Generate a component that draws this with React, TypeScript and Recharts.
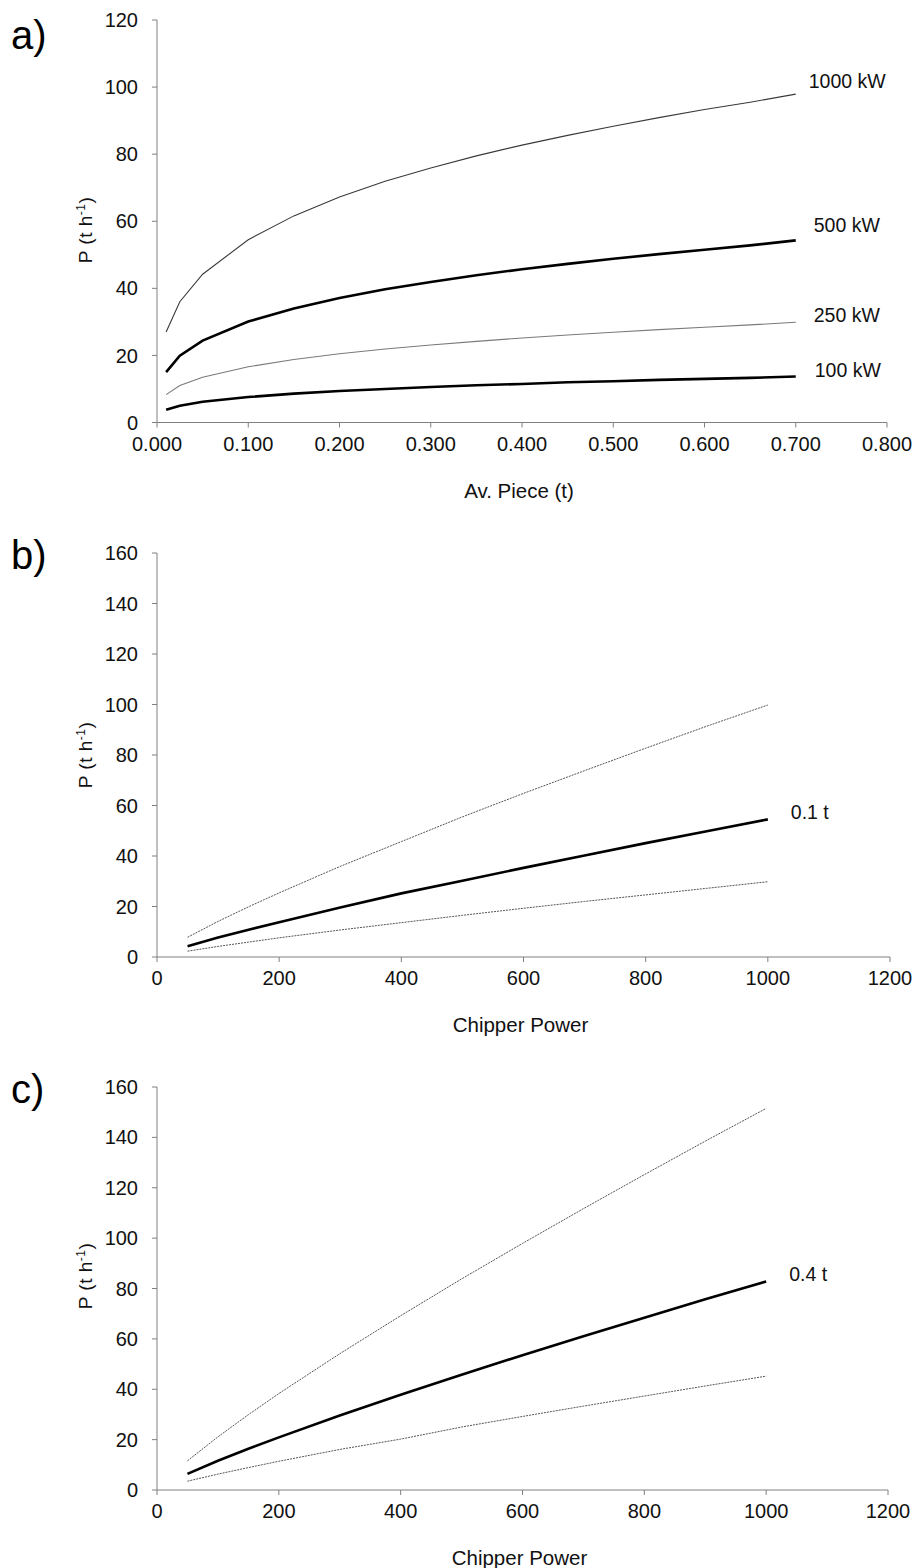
import React from 'react';
import { LineChart, Line, XAxis, YAxis } from 'recharts';

// a) production vs average piece size, one curve per chipper power
const pieceSizes = [0.01, 0.025, 0.05, 0.1, 0.15, 0.2, 0.25, 0.3, 0.35, 0.4, 0.45, 0.5, 0.55, 0.6, 0.65, 0.7];
const kw1000 = [27, 36, 44.2, 54.5, 61.6, 67.2, 71.9, 75.9, 79.5, 82.7, 85.6, 88.3, 90.9, 93.3, 95.5, 97.9];
const kw500 = [15, 19.9, 24.4, 30.1, 34, 37.1, 39.7, 41.9, 43.9, 45.7, 47.3, 48.8, 50.2, 51.5, 52.8, 54.3];
const kw250 = [8.3, 11, 13.5, 16.6, 18.8, 20.5, 21.9, 23.1, 24.2, 25.2, 26.1, 26.9, 27.7, 28.4, 29.1, 29.9];
const kw100 = [3.8, 5.0, 6.2, 7.6, 8.6, 9.4, 10.0, 10.6, 11.1, 11.5, 12.0, 12.3, 12.7, 13.0, 13.3, 13.7];

// b) and c) production vs chipper power
const chipperPower = [50, 100, 150, 200, 300, 400, 500, 600, 700, 800, 900, 1000];
const bUpper = [7.8, 14.1, 19.9, 25.4, 35.9, 45.7, 55.5, 64.8, 73.8, 82.7, 91.4, 99.8];
const bMid = [4.3, 7.7, 10.8, 13.8, 19.6, 25.2, 30.2, 35.3, 40.2, 45.1, 49.8, 54.5];
const bLower = [2.3, 4.2, 5.9, 7.6, 10.7, 13.6, 16.5, 19.3, 22.0, 24.6, 27.2, 29.8];
const cUpper = [11.6, 21.1, 29.9, 38.3, 54.1, 69.2, 83.8, 97.9, 111.7, 125.2, 138.5, 151.5];
const cMid = [6.4, 11.6, 16.4, 20.9, 29.6, 37.8, 45.8, 53.5, 61.0, 68.4, 75.7, 82.8];
const cLower = [3.5, 6.3, 8.9, 11.4, 16.1, 20.2, 25.0, 29.2, 33.3, 37.3, 41.3, 45.2];

const aXTicks = [0, 0.1, 0.2, 0.3, 0.4, 0.5, 0.6, 0.7, 0.8];
const aYTicks = [0, 20, 40, 60, 80, 100, 120];
const bcXTicks = [0, 200, 400, 600, 800, 1000, 1200];
const bcYTicks = [0, 20, 40, 60, 80, 100, 120, 140, 160];

const FONT = '"Liberation Sans", Arial, sans-serif';
const AXIS = '#808080';

const rowsA = pieceSizes.map((x, i) => ({ x, kw100: kw100[i], kw250: kw250[i], kw500: kw500[i], kw1000: kw1000[i] }));
const rowsB = chipperPower.map((x, i) => ({ x, lo: bLower[i], mid: bMid[i], hi: bUpper[i] }));
const rowsC = chipperPower.map((x, i) => ({ x, lo: cLower[i], mid: cMid[i], hi: cUpper[i] }));

type Series = {
  key: string;
  label?: string;
  color: string;
  width: number;
  dash?: string;
  dx?: number;
  dy?: number;
};

const seriesA: Series[] = [
  { key: 'kw1000', label: '1000 kW', color: '#3a3a3a', width: 1.1, dx: 13, dy: -13 },
  { key: 'kw500', label: '500 kW', color: '#000', width: 2.6, dx: 18, dy: -15 },
  { key: 'kw250', label: '250 kW', color: '#7a7a7a', width: 1.1, dx: 18, dy: -7 },
  { key: 'kw100', label: '100 kW', color: '#000', width: 2.6, dx: 19, dy: -6 },
];

const seriesBC = (midLabel: string): Series[] => [
  { key: 'hi', color: '#555', width: 1, dash: '2 1' },
  { key: 'mid', label: midLabel, color: '#000', width: 2.6, dx: 23, dy: -7 },
  { key: 'lo', color: '#555', width: 1, dash: '2 1' },
];

const endLabel = (s: Series, count: number) => (props: any) => {
  if (!s.label || props.index !== count - 1) return null;
  return (
    <text x={props.x + (s.dx ?? 0)} y={props.y + (s.dy ?? 0)} dy="0.35em"
      fontSize={19.5} fontFamily={FONT} fill="#111">
      {s.label}
    </text>
  );
};

type PanelProps = {
  top: number;
  tag: string;
  tagY: number;
  data: any[];
  series: Series[];
  xDomain: [number, number];
  xTicks: number[];
  xFormat: (v: number) => string;
  yDomain: [number, number];
  yTicks: number[];
  xTitle: string;
  yTitleY: number;
  marginBottom: number;
  marginRight: number;
};

const Panel: React.FC<PanelProps> = (p) => (
  <div style={{ position: 'absolute', left: 0, top: p.top, width: 917, height: 520 }}>
    <LineChart width={917} height={520} data={p.data}
      margin={{ top: 20, right: p.marginRight, bottom: p.marginBottom, left: 97 }}>
      <XAxis type="number" dataKey="x" domain={p.xDomain} ticks={p.xTicks} tickFormatter={p.xFormat}
        height={60} stroke={AXIS} tickSize={5} tickMargin={9}
        tick={{ fill: '#111', fontSize: 20, fontFamily: FONT }}
        label={{
          content: (lp: any) => {
            const vb = lp.viewBox;
            return (
              <text x={vb.x + vb.width / 2 - 3} y={vb.y + 68} dy="0.35em" textAnchor="middle"
                fontSize={20.5} fontFamily={FONT} fill="#111">{p.xTitle}</text>
            );
          },
        }} />
      <YAxis type="number" domain={p.yDomain} ticks={p.yTicks} width={60} stroke={AXIS}
        tickSize={5} tickMargin={14} tick={{ fill: '#111', fontSize: 20, fontFamily: FONT }}
        label={{
          content: () => (
            <text x={85} y={p.yTitleY} transform={`rotate(-90 85 ${p.yTitleY})`} dy="0.35em"
              textAnchor="middle" fontSize={19} fontFamily={FONT} fill="#111" letterSpacing={0.5}>
              P (t  h<tspan fontSize={12} dy={-7}>-1</tspan><tspan dy={7}>)</tspan>
            </text>
          ),
        }} />
      {p.series.map((s) => (
        <Line key={s.key} type="linear" dataKey={s.key} stroke={s.color} strokeWidth={s.width}
          strokeDasharray={s.dash} dot={false} isAnimationActive={false}
          label={endLabel(s, p.data.length)} />
      ))}
    </LineChart>
    <div style={{ position: 'absolute', left: 11, top: p.tagY - 38, fontSize: 40, fontFamily: FONT, lineHeight: '46px' }}>
      {p.tag}
    </div>
  </div>
);

export default function App() {
  return (
    <div style={{ position: 'absolute', left: 0, top: 0, width: 917, height: 1568, background: '#fff' }}>
      <Panel top={0} tag="a)" tagY={50} data={rowsA} series={seriesA}
        xDomain={[0, 0.8]} xTicks={aXTicks} xFormat={(v) => v.toFixed(3)}
        yDomain={[0, 120]} yTicks={aYTicks} xTitle="Av. Piece (t)" yTitleY={230}
        marginBottom={37.5} marginRight={30} />
      <Panel top={533} tag="b)" tagY={37} data={rowsB} series={seriesBC('0.1 t')}
        xDomain={[0, 1200]} xTicks={bcXTicks} xFormat={(v) => String(v)}
        yDomain={[0, 160]} yTicks={bcYTicks} xTitle="Chipper Power" yTitleY={222}
        marginBottom={36} marginRight={27} />
      <Panel top={1067} tag="c)" tagY={37} data={rowsC} series={seriesBC('0.4 t')}
        xDomain={[0, 1200]} xTicks={bcXTicks} xFormat={(v) => String(v)}
        yDomain={[0, 160]} yTicks={bcYTicks} xTitle="Chipper Power" yTitleY={209}
        marginBottom={37} marginRight={29} />
    </div>
  );
}
